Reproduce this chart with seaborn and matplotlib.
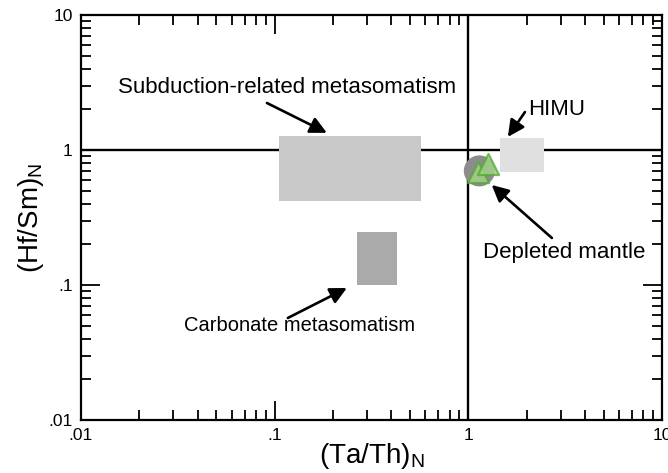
import matplotlib
matplotlib.use("Agg")
import matplotlib.pyplot as plt
from matplotlib.patches import Rectangle
from matplotlib.ticker import LogLocator, FixedFormatter, FixedLocator, NullFormatter
import seaborn as sns
import pandas as pd

# Reference fields: (name, x_min, x_max, y_min, y_max, fill colour)
field_names = ["Subduction-related metasomatism", "Carbonate metasomatism", "HIMU"]
field_x_min = [0.105, 0.265, 1.45]
field_x_max = [0.57, 0.43, 2.47]
field_y_min = [0.42, 0.10, 0.69]
field_y_max = [1.27, 0.247, 1.23]
field_colors = ["#c8c8c8", "#aaaaaa", "#e0e0e0"]

# Depleted mantle composition
dm_ta_th = [1.14]
dm_hf_sm = [0.70]

# Samples
sample_ta_th = [1.12, 1.27]
sample_hf_sm = [0.69, 0.79]

tick_values = [0.01, 0.1, 1, 10]
tick_labels = [".01", ".1", "1", "10"]

sns.set_theme(style="ticks")
plt.rcParams["font.family"] = ["Liberation Sans", "DejaVu Sans"]
plt.rcParams["mathtext.fontset"] = "custom"
plt.rcParams["mathtext.rm"] = "Liberation Sans"
for key in ("text.color", "axes.labelcolor", "xtick.color", "ytick.color",
            "xtick.labelcolor", "ytick.labelcolor"):
    plt.rcParams[key] = "black"

fig = plt.figure(figsize=(6.68, 4.73), dpi=100)
ax = fig.add_axes([81 / 668, 1 - 420 / 473, 581 / 668, 405 / 473])
ax.set_xscale("log")
ax.set_yscale("log")
ax.set_xlim(0.01, 10)
ax.set_ylim(0.01, 10)

for name, x0, x1, y0, y1, c in zip(field_names, field_x_min, field_x_max,
                                   field_y_min, field_y_max, field_colors):
    ax.add_patch(Rectangle((x0, y0), x1 - x0, y1 - y0, facecolor=c,
                           edgecolor="none", zorder=3))

# Reference lines at unity
ax.axvline(1, color="black", lw=1.7, zorder=2)
ax.axhline(1, color="black", lw=1.7, zorder=2)

sns.scatterplot(data=pd.DataFrame({"x": dm_ta_th, "y": dm_hf_sm}), x="x", y="y",
                ax=ax, s=500, color="#8c8c8c", edgecolor="none", zorder=4,
                legend=False)
sns.scatterplot(data=pd.DataFrame({"x": sample_ta_th, "y": sample_hf_sm}), x="x", y="y",
                ax=ax, marker="^", s=230, facecolor="#a2d683", edgecolor="#5aa83a",
                linewidth=1.6, alpha=0.8, zorder=5, legend=False)

arrow = dict(arrowstyle="-|>", color="black", lw=1.9, mutation_scale=25,
             shrinkA=0, shrinkB=0)
fs = 16
ax.text(0.116, 2.88, "Subduction-related metasomatism", ha="center", va="center",
        fontsize=fs, zorder=6)
ax.annotate("", xy=(0.186, 1.34), xytext=(0.0912, 2.23), arrowprops=arrow, zorder=6)

ax.text(2.03, 1.98, "HIMU", ha="left", va="center", fontsize=fs, zorder=6)
ax.annotate("", xy=(1.60, 1.25), xytext=(1.96, 1.91), arrowprops=arrow, zorder=6)

ax.text(3.12, 0.175, "Depleted mantle", ha="center", va="center", fontsize=fs, zorder=6)
ax.annotate("", xy=(1.32, 0.551), xytext=(2.70, 0.223), arrowprops=arrow, zorder=6)

ax.text(0.135, 0.0500, "Carbonate metasomatism", ha="center", va="center",
        fontsize=14.5, zorder=6)
ax.annotate("", xy=(0.236, 0.095), xytext=(0.117, 0.057), arrowprops=arrow, zorder=6)

for axis in (ax.xaxis, ax.yaxis):
    axis.set_major_locator(FixedLocator(tick_values))
    axis.set_major_formatter(FixedFormatter(tick_labels))
    axis.set_minor_locator(LogLocator(base=10, subs=range(2, 10), numticks=20))
    axis.set_minor_formatter(NullFormatter())

ax.tick_params(which="both", direction="in", top=True, right=True, color="black",
               width=1.3)
ax.tick_params(which="major", length=14, labelsize=12.5, pad=6)
ax.tick_params(which="minor", length=7)
for sp in ax.spines.values():
    sp.set_linewidth(1.6)
    sp.set_color("black")

ax.set_xlabel(r"(Ta/Th)$_\mathrm{N}$", fontsize=20, labelpad=-2)
ax.set_ylabel(r"(Hf/Sm)$_\mathrm{N}$", fontsize=20, labelpad=2)

fig.savefig("out.png", dpi=100)
